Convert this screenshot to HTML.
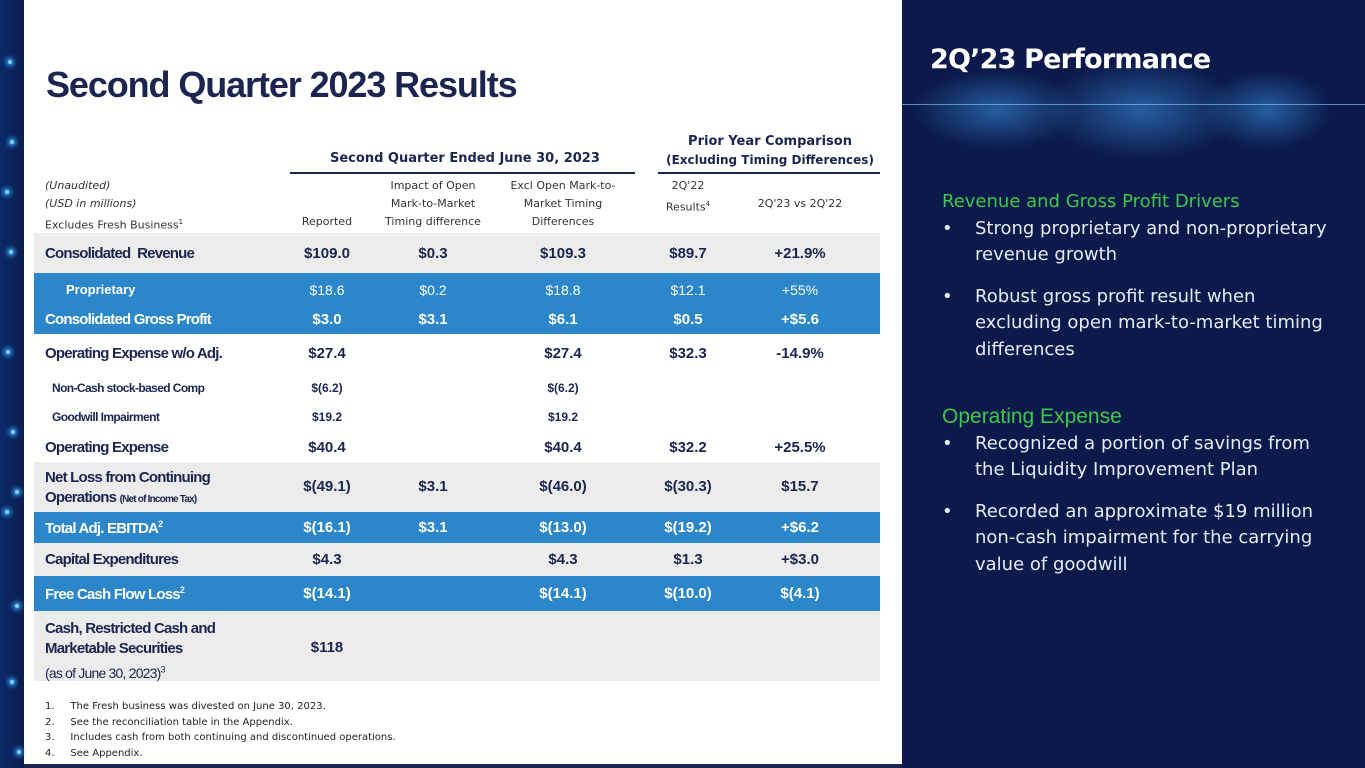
<!DOCTYPE html>
<html><head><meta charset="utf-8"><style>
*{margin:0;padding:0;box-sizing:border-box}
body{width:1365px;height:768px;position:relative;overflow:hidden;background:#fff;font-family:"Liberation Sans",sans-serif;color:#1b2550}
.abs{position:absolute}
.strip{left:0;top:0;width:24px;height:768px;background:linear-gradient(90deg,#0a2a6a,#0c1d4c)}
.dot{position:absolute;width:4px;height:4px;border-radius:50%;background:#7fd0ff;box-shadow:0 0 5px 2px #3aa8ff}
.right{left:902px;top:0;width:463px;height:768px;background:#0b1a4a}
.glow{position:absolute;border-radius:50%;background:radial-gradient(ellipse,rgba(60,150,230,.55),rgba(60,150,230,0) 70%)}
h1{position:absolute;left:46px;top:64px;font-size:36px;font-weight:bold;letter-spacing:-1.1px;color:#1b2550}
.row{position:absolute;left:34px;width:846px}
.gray{background:#ececec}
.blue{background:#2b87c9;color:#fff}
.c{position:absolute;transform:translateX(-50%);text-align:center;white-space:nowrap}
.lab{position:absolute;left:11px;font-weight:bold;letter-spacing:-0.8px;font-size:15px}
.v{font-weight:bold;font-size:15px}
.hd{font-family:"DejaVu Sans",sans-serif;font-size:11px;color:#333;line-height:18px}
.fn{font-family:"DejaVu Sans",sans-serif;font-size:10px;color:#222}
.rt{color:#e6ecf7;font-family:"DejaVu Sans",sans-serif;font-size:18px;line-height:26.5px;text-align:left}
.bl{position:relative;padding-left:33px}
.bl b{position:absolute;left:0;top:0;font-weight:normal}
</style></head><body>
<div class="abs strip">
<div class="dot" style="left:8px;top:60px"></div><div class="dot" style="left:10px;top:140px"></div><div class="dot" style="left:5px;top:190px"></div><div class="dot" style="left:9px;top:250px"></div><div class="dot" style="left:6px;top:350px"></div><div class="dot" style="left:11px;top:430px"></div><div class="dot" style="left:15px;top:490px"></div><div class="dot" style="left:5px;top:510px"></div><div class="dot" style="left:15px;top:604px"></div><div class="dot" style="left:10px;top:680px"></div><div class="dot" style="left:17px;top:750px"></div>
</div>
<h1>Second Quarter 2023 Results</h1>

<div class="abs hd" style="left:330px;top:150px;font-weight:bold;font-size:13px;color:#1b2550">Second Quarter Ended June 30, 2023</div>
<div class="abs" style="left:290px;top:172px;width:345px;height:2px;background:#1b2550"></div>
<div class="abs hd c" style="left:770px;top:132px;font-weight:bold;font-size:13px;color:#1b2550;line-height:19px">Prior Year Comparison<br><span style="font-size:12px">(Excluding Timing Differences)</span></div>
<div class="abs" style="left:658px;top:172px;width:222px;height:2px;background:#1b2550"></div>

<div class="abs hd" style="left:45px;top:177px"><i>(Unaudited)</i><br><i>(USD in millions)</i><br>Excludes Fresh Business<sup style="font-size:7px">1</sup></div>
<div class="abs hd c" style="left:327px;top:213px">Reported</div>
<div class="abs hd c" style="left:433px;top:177px">Impact of Open<br>Mark-to-Market<br>Timing difference</div>
<div class="abs hd c" style="left:563px;top:177px">Excl Open Mark-to-<br>Market Timing<br>Differences</div>
<div class="abs hd c" style="left:688px;top:177px">2Q'22<br>Results<sup style="font-size:7px">4</sup></div>
<div class="abs hd c" style="left:800px;top:195px">2Q'23 vs 2Q'22</div>

<div class="row gray" style="top:233px;height:40px">
<span class="lab" style="top:12px">Consolidated&nbsp; Revenue</span><span class="c v" style="left:293px;top:12px">$109.0</span><span class="c v" style="left:399px;top:12px">$0.3</span><span class="c v" style="left:529px;top:12px">$109.3</span><span class="c v" style="left:654px;top:12px">$89.7</span><span class="c v" style="left:766px;top:12px">+21.9%</span></div>
<div class="row blue" style="top:273px;height:61px">
<span class="lab" style="top:9px;left:32px;font-size:13px;letter-spacing:0">Proprietary</span><span class="c" style="left:293px;top:9px;font-size:14px">$18.6</span><span class="c" style="left:399px;top:9px;font-size:14px">$0.2</span><span class="c" style="left:529px;top:9px;font-size:14px">$18.8</span><span class="c" style="left:654px;top:9px;font-size:14px">$12.1</span><span class="c" style="left:766px;top:9px;font-size:14px">+55%</span>
<span class="lab" style="top:38px">Consolidated Gross Profit</span><span class="c v" style="left:293px;top:38px">$3.0</span><span class="c v" style="left:399px;top:38px">$3.1</span><span class="c v" style="left:529px;top:38px">$6.1</span><span class="c v" style="left:654px;top:38px">$0.5</span><span class="c v" style="left:766px;top:38px">+$5.6</span></div>
<div class="row" style="top:334px;height:38px">
<span class="lab" style="top:11px">Operating Expense w/o Adj.</span><span class="c v" style="left:293px;top:11px">$27.4</span><span class="c v" style="left:529px;top:11px">$27.4</span><span class="c v" style="left:654px;top:11px">$32.3</span><span class="c v" style="left:766px;top:11px">-14.9%</span></div>
<div class="row" style="top:372px;height:30px">
<span class="lab" style="top:9px;left:18px;font-size:12px;letter-spacing:-0.6px">Non-Cash stock-based Comp</span><span class="c v" style="left:293px;top:9px;font-size:12px">$(6.2)</span><span class="c v" style="left:529px;top:9px;font-size:12px">$(6.2)</span></div>
<div class="row" style="top:402px;height:30px">
<span class="lab" style="top:8px;left:18px;font-size:12px;letter-spacing:-0.6px">Goodwill Impairment</span><span class="c v" style="left:293px;top:8px;font-size:12px">$19.2</span><span class="c v" style="left:529px;top:8px;font-size:12px">$19.2</span></div>
<div class="row" style="top:432px;height:30px">
<span class="lab" style="top:7px">Operating Expense</span><span class="c v" style="left:293px;top:7px">$40.4</span><span class="c v" style="left:529px;top:7px">$40.4</span><span class="c v" style="left:654px;top:7px">$32.2</span><span class="c v" style="left:766px;top:7px">+25.5%</span></div>
<div class="row gray" style="top:462px;height:50px">
<span class="lab" style="top:6px;line-height:20px">Net Loss from Continuing<br>Operations <span style="font-size:10px">(Net of Income Tax)</span></span><span class="c v" style="left:293px;top:16px">$(49.1)</span><span class="c v" style="left:399px;top:16px">$3.1</span><span class="c v" style="left:529px;top:16px">$(46.0)</span><span class="c v" style="left:654px;top:16px">$(30.3)</span><span class="c v" style="left:766px;top:16px">$15.7</span></div>
<div class="row blue" style="top:512px;height:31px">
<span class="lab" style="top:7px">Total Adj. EBITDA<sup style="font-size:9px">2</sup></span><span class="c v" style="left:293px;top:7px">$(16.1)</span><span class="c v" style="left:399px;top:7px">$3.1</span><span class="c v" style="left:529px;top:7px">$(13.0)</span><span class="c v" style="left:654px;top:7px">$(19.2)</span><span class="c v" style="left:766px;top:7px">+$6.2</span></div>
<div class="row gray" style="top:543px;height:33px">
<span class="lab" style="top:8px">Capital Expenditures</span><span class="c v" style="left:293px;top:8px">$4.3</span><span class="c v" style="left:529px;top:8px">$4.3</span><span class="c v" style="left:654px;top:8px">$1.3</span><span class="c v" style="left:766px;top:8px">+$3.0</span></div>
<div class="row blue" style="top:576px;height:35px">
<span class="lab" style="top:9px">Free Cash Flow Loss<sup style="font-size:9px">2</sup></span><span class="c v" style="left:293px;top:9px">$(14.1)</span><span class="c v" style="left:529px;top:9px">$(14.1)</span><span class="c v" style="left:654px;top:9px">$(10.0)</span><span class="c v" style="left:766px;top:9px">$(4.1)</span></div>
<div class="row gray" style="top:611px;height:70px">
<span class="lab" style="top:8px;line-height:20px">Cash, Restricted Cash and<br>Marketable Securities<br><span style="font-weight:normal;font-size:14px">(as of June 30, 2023)<sup style="font-size:9px">3</sup></span></span><span class="c v" style="left:293px;top:28px">$118</span></div>

<div class="abs fn" style="left:45px;top:699px;line-height:15.5px">
1.&nbsp;&nbsp;&nbsp;&nbsp;&nbsp;The Fresh business was divested on June 30, 2023.<br>2.&nbsp;&nbsp;&nbsp;&nbsp;&nbsp;See the reconciliation table in the Appendix.<br>3.&nbsp;&nbsp;&nbsp;&nbsp;&nbsp;Includes cash from both continuing and discontinued operations.<br>4.&nbsp;&nbsp;&nbsp;&nbsp;&nbsp;See Appendix.</div>
<div class="abs" style="left:24px;top:764px;width:878px;height:4px;background:#1b2550"></div>

<div class="abs right">
<div class="glow" style="left:10px;top:70px;width:170px;height:80px"></div>
<div class="glow" style="left:140px;top:60px;width:200px;height:100px"></div>
<div class="glow" style="left:300px;top:70px;width:130px;height:80px"></div>
<div class="abs" style="left:0;top:104px;width:463px;height:1px;background:rgba(140,210,255,.6)"></div>
<div class="abs" style="left:28px;top:44px;font-family:'DejaVu Sans',sans-serif;font-weight:bold;font-size:27px;color:#fff;letter-spacing:-0.8px">2Q’23 Performance</div>
<div class="abs" style="left:40px;top:189px;width:396px">
<div style="color:#3cc84a;font-family:'DejaVu Sans',sans-serif;font-size:18px;line-height:26.5px">Revenue and Gross Profit Drivers</div>
<div class="rt bl"><b>•</b>Strong proprietary and non-proprietary revenue growth</div>
<div class="rt bl" style="margin-top:15px"><b>•</b>Robust gross profit result when<br>excluding open mark-to-market timing differences</div>
<div style="color:#3cc84a;font-size:21px;line-height:26.5px;margin-top:41px">Operating Expense</div>
<div class="rt bl"><b>•</b>Recognized a portion of savings from the Liquidity Improvement Plan</div>
<div class="rt bl" style="margin-top:15px"><b>•</b>Recorded an approximate $19 million non-cash impairment for the carrying value of goodwill</div>
</div>
</div>
</body></html>
